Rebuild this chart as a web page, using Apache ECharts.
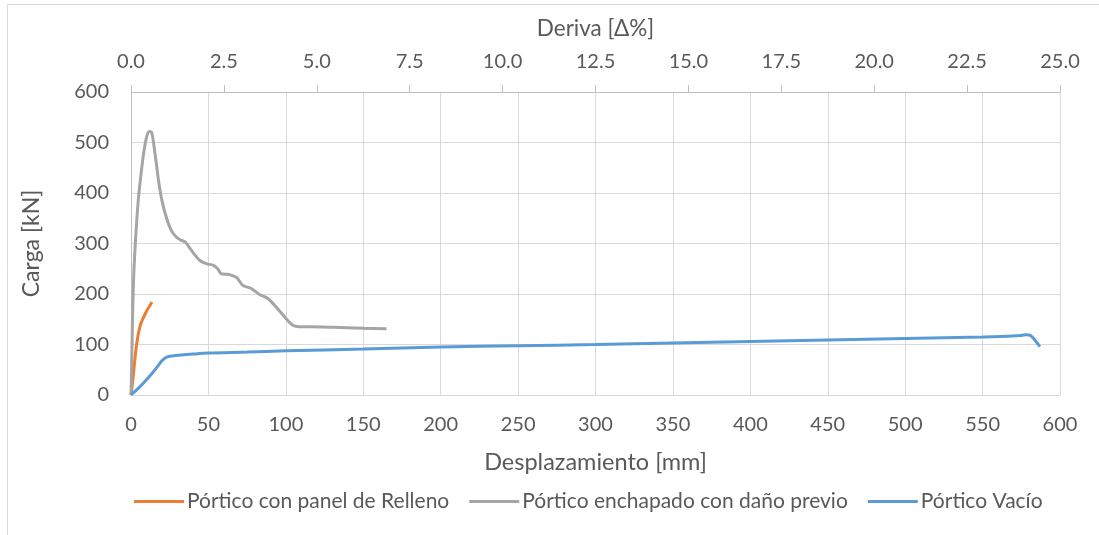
<!DOCTYPE html>
<html>
<head>
<meta charset="utf-8">
<script src="https://cdn.jsdelivr.net/npm/echarts@6/dist/echarts.min.js"></script>
<style>
html,body{margin:0;padding:0;background:#fff;}
#chart{width:1099px;height:535px;}
</style>
</head>
<body>
<div id="chart"></div>
<script>
// Data
var seriesNames = ['Pórtico con panel de Relleno', 'Pórtico enchapado con daño previo', 'Pórtico Vacío'];
var rellenoX = [0, 1, 2, 3, 4, 5, 6, 7, 8, 10, 12, 13.5];
var rellenoY = [0, 25, 55, 85, 108, 125, 138, 146, 153, 166, 176, 184];
var enchapadoX = [0, 0.6, 1.2, 1.8, 2.6, 3.6, 4.8, 6.2, 8, 10, 11.8, 13.3, 14.3, 15.2, 16.5, 18, 20, 22.7, 26, 29.2, 32, 35, 38.9, 44.2, 48.6, 53, 56, 58.3, 62.5, 66, 68.5, 72.2, 77.6, 83, 88.4, 93.8, 100.2, 104.5, 108.8, 115, 130, 150, 165];
var enchapadoY = [0, 90, 180, 240, 290, 340, 390, 430, 475, 510, 522, 520, 505, 485, 455, 420, 385, 353, 326, 313, 307, 303, 287, 267, 260, 257, 250, 240, 239, 236, 232, 217, 211, 199, 191, 174, 151, 138, 135, 135, 134, 132, 131];
var vacioX = [0, 5, 10, 15, 18, 20, 23, 27, 32, 40, 50, 75, 100, 150, 200, 250, 300, 350, 400, 450, 500, 550, 575, 578, 581, 584, 587];
var vacioY = [0, 14, 30, 48, 60, 68, 75, 77.5, 79, 81, 83, 85, 87.5, 91, 95, 97.5, 100, 103, 106, 109, 112, 115, 118, 119.5, 118, 108, 96];
var desplTicks = {min: 0, max: 600, interval: 50};
var derivaTicks = {min: 0, max: 25, interval: 2.5};
var cargaTicks = {min: 0, max: 600, interval: 100};

function pairs(xs, ys) { return xs.map(function (x, i) { return [x, ys[i]]; }); }

var FONT = 'Lato';
var TXT = '#595959';
var chart = echarts.init(document.getElementById('chart'), null, {renderer: 'canvas'});
chart.setOption({
  animation: false,
  backgroundColor: '#ffffff',
  textStyle: {fontFamily: FONT},
  graphic: [{
    type: 'rect', shape: {x: 7.5, y: 4.5, width: 1200, height: 700},
    style: {fill: 'none', stroke: '#d9d9d9', lineWidth: 1}, silent: true, z: -10
  }],
  grid: {left: 131, right: 39, top: 92, bottom: 140},
  legend: {
    data: seriesNames,
    top: 486, left: 129,
    icon: 'rect', itemWidth: 50, itemHeight: 3, itemGap: 20,
    textStyle: {fontFamily: FONT, fontSize: 21, color: TXT, padding: [0, 0, 0, -2]}
  },
  xAxis: [{
    type: 'value', position: 'bottom',
    min: desplTicks.min, max: desplTicks.max, interval: desplTicks.interval,
    name: 'Desplazamiento [mm]', nameLocation: 'middle', nameGap: 55,
    nameTextStyle: {fontFamily: FONT, fontSize: 23.5, color: TXT},
    axisLine: {show: false}, axisTick: {show: false},
    axisLabel: {fontFamily: FONT, fontSize: 20, color: TXT, margin: 20},
    splitLine: {show: true, lineStyle: {color: '#d9d9d9', width: 1}}
  }, {
    type: 'value', position: 'top',
    min: derivaTicks.min, max: derivaTicks.max, interval: derivaTicks.interval,
    name: 'Deriva [Δ%]', nameLocation: 'middle', nameGap: 52,
    nameTextStyle: {fontFamily: FONT, fontSize: 22.5, color: TXT},
    axisLine: {show: true, onZero: false, lineStyle: {color: '#bfbfbf', width: 1}},
    axisTick: {show: true, inside: false, length: 7, lineStyle: {color: '#bfbfbf'}},
    axisLabel: {fontFamily: FONT, fontSize: 20, color: TXT, margin: 20,
      formatter: function (v) { return v.toFixed(1); }},
    splitLine: {show: false}
  }],
  yAxis: [{
    type: 'value',
    min: cargaTicks.min, max: cargaTicks.max, interval: cargaTicks.interval,
    name: 'Carga [kN]', nameLocation: 'middle', nameGap: 88, nameRotate: 90,
    nameTextStyle: {fontFamily: FONT, fontSize: 23, color: TXT},
    axisLine: {show: true, lineStyle: {color: '#bfbfbf', width: 1}},
    axisTick: {show: false},
    axisLabel: {fontFamily: FONT, fontSize: 20, color: TXT, margin: 22},
    splitLine: {show: true, lineStyle: {color: '#d9d9d9', width: 1}}
  }],
  series: [{
    name: seriesNames[0], type: 'line', xAxisIndex: 0, yAxisIndex: 0,
    data: pairs(rellenoX, rellenoY), showSymbol: false, symbol: 'none',
    smooth: 0.3, itemStyle: {color: '#ED7D31'}, lineStyle: {color: '#ED7D31', width: 3}
  }, {
    name: seriesNames[1], type: 'line', xAxisIndex: 0, yAxisIndex: 0,
    data: pairs(enchapadoX, enchapadoY), showSymbol: false, symbol: 'none',
    smooth: 0.3, itemStyle: {color: '#A5A5A5'}, lineStyle: {color: '#A5A5A5', width: 3}
  }, {
    name: seriesNames[2], type: 'line', xAxisIndex: 0, yAxisIndex: 0,
    data: pairs(vacioX, vacioY), showSymbol: false, symbol: 'none',
    smooth: 0.3, itemStyle: {color: '#5B9BD5'}, lineStyle: {color: '#5B9BD5', width: 3}
  }]
});
</script>
</body>
</html>
